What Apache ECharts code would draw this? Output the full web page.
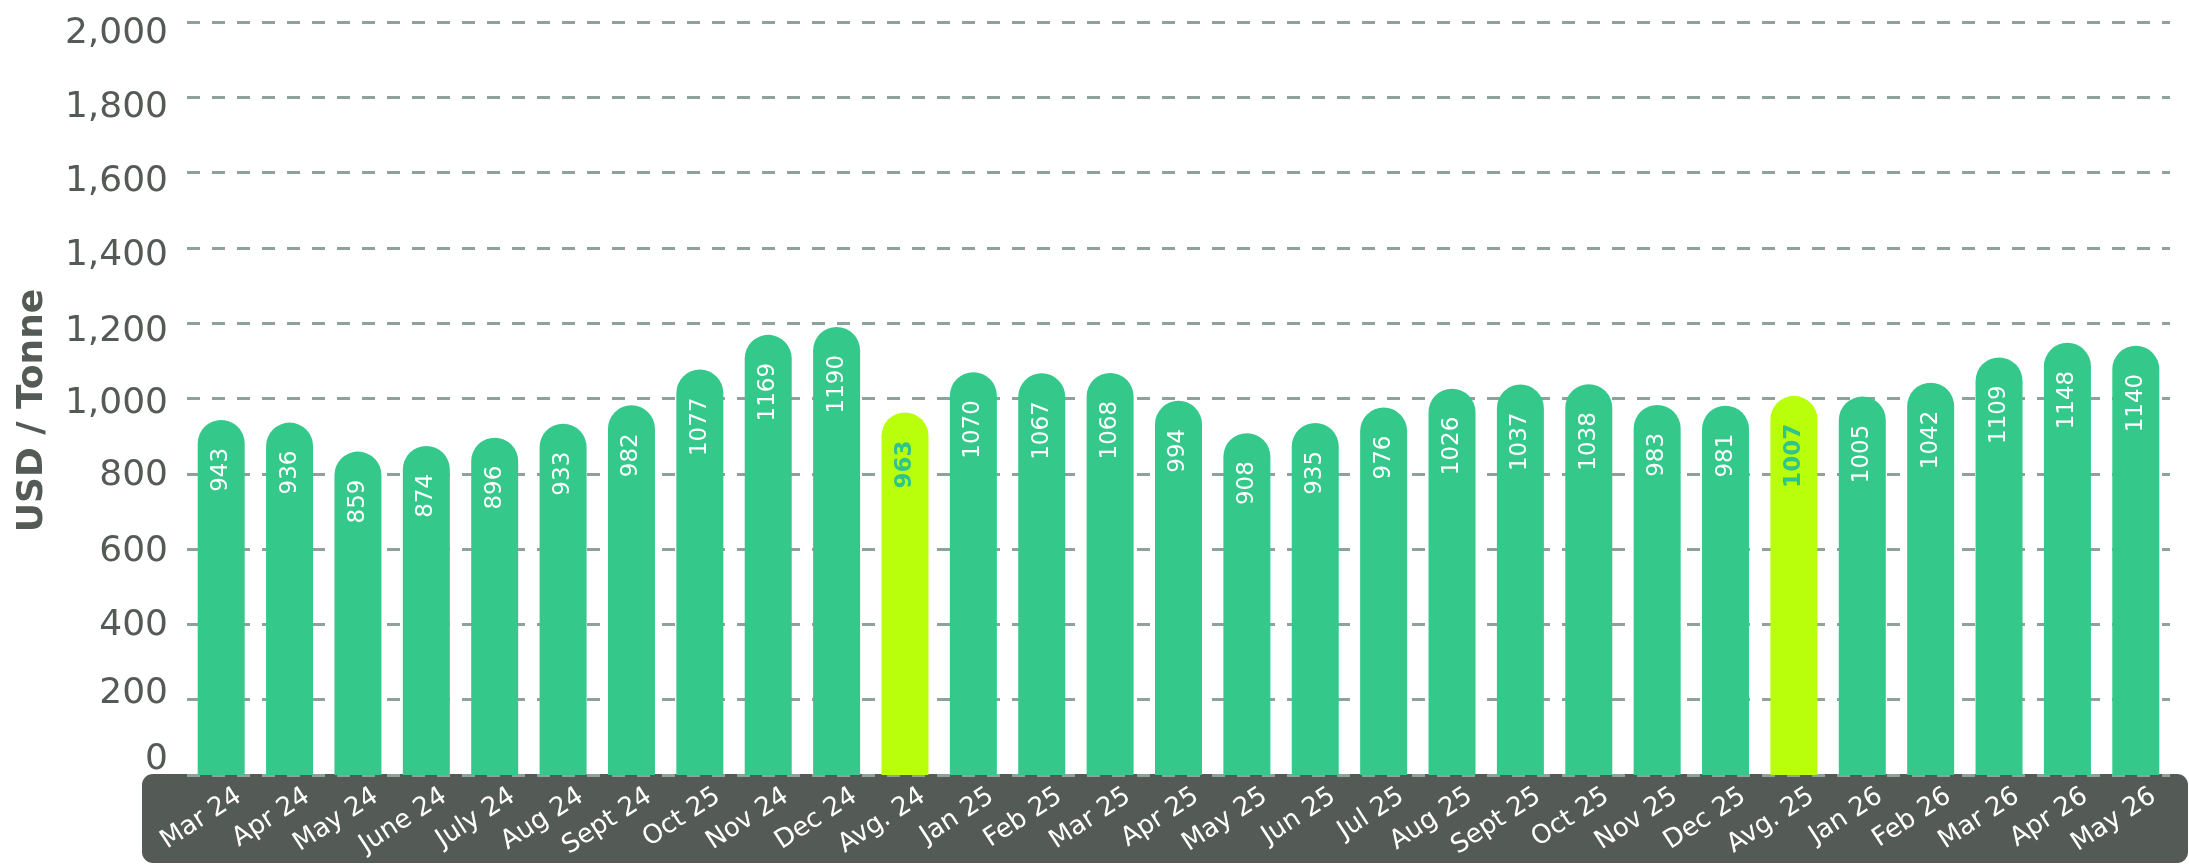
<!DOCTYPE html>
<html>
<head>
<meta charset="utf-8">
<script src="https://cdn.jsdelivr.net/npm/echarts@6/dist/echarts.min.js"></script>
<style>
  html, body { margin: 0; padding: 0; background: #ffffff; }
  #chart { width: 2189px; height: 868px; }
</style>
</head>
<body>
<div id="chart"></div>
<script>
// ---- data ----
const categories = ['Mar 24','Apr 24','May 24','June 24','July 24','Aug 24','Sept 24','Oct 25','Nov 24','Dec 24','Avg. 24',
  'Jan 25','Feb 25','Mar 25','Apr 25','May 25','Jun 25','Jul 25','Aug 25','Sept 25','Oct 25','Nov 25','Dec 25','Avg. 25',
  'Jan 26','Feb 26','Mar 26','Apr 26','May 26'];
const prices = [943, 936, 859, 874, 896, 933, 982, 1077, 1169, 1190, 963,
  1070, 1067, 1068, 994, 908, 935, 976, 1026, 1037, 1038, 983, 981, 1007,
  1005, 1042, 1109, 1148, 1140];
const averageFlags = [0,0,0,0,0,0,0,0,0,0,1, 0,0,0,0,0,0,0,0,0,0,0,0,1, 0,0,0,0,0];
const yTicks = { min: 0, max: 2000, step: 200 };
const yTitle = 'USD / Tonne';

// ---- styling ----
const FONT = '"DejaVu Sans", "Open Sans", sans-serif';
const GREEN = '#34c98b';
const LIME = '#b9ff0b';
const AVG_TEXT = '#2ec48c';
const GREY = '#545a55';
const GRID_LINE = '#8fa19c';

const seriesData = prices.map((v, i) => {
  const avg = averageFlags[i] === 1;
  return {
    value: v,
    itemStyle: { color: avg ? LIME : GREEN },
    label: avg ? { color: AVG_TEXT, fontWeight: 'bold' } : undefined
  };
});

// tick labels in the reference drift a little off their gridlines (px, + = down)
const tickLabelShift = [-15, -6, 1, 3, 2, 5, 8, 8, 9, 10, 12];
const tickRich = {};
tickLabelShift.forEach((shift, k) => {
  tickRich['s' + k] = {
    color: GREY, fontFamily: FONT, fontSize: 36,
    padding: [Math.max(0, 2 * shift), 0, Math.max(0, -2 * shift), 0]
  };
});

const gridMain = { left: 187, right: 19, top: 22, bottom: 93 };
const gridLabels = { left: 187 + 18, right: 19 - 18, top: 22, bottom: 93 };

const chart = echarts.init(document.getElementById('chart'), null, { renderer: 'canvas' });
chart.setOption({
  animation: false,
  backgroundColor: '#ffffff',
  graphic: [{
    type: 'rect',
    z: -5,
    shape: { x: 142, y: 774, width: 2046, height: 89, r: 11 },
    style: { fill: GREY }
  }],
  grid: [gridMain, gridLabels],
  xAxis: [{
    type: 'category',
    gridIndex: 0,
    data: categories,
    axisLine: { show: false },
    axisTick: { show: false },
    axisLabel: { show: false }
  }, {
    type: 'category',
    gridIndex: 1,
    data: categories,
    axisLine: { show: false },
    axisTick: { show: false },
    axisLabel: {
      interval: 0,
      rotate: 33,
      margin: 19,
      color: '#ffffff',
      fontFamily: FONT,
      fontSize: 26
    }
  }],
  yAxis: [{
    type: 'value',
    gridIndex: 0,
    min: yTicks.min,
    max: yTicks.max,
    interval: yTicks.step,
    name: yTitle,
    nameLocation: 'middle',
    nameGap: 136,
    nameTextStyle: { fontFamily: FONT, fontSize: 36, fontWeight: 'bold', color: GREY, padding: [0, 24, 0, 0] },
    axisLine: { show: false },
    axisTick: { show: false },
    axisLabel: {
      margin: 19,
      formatter: v => '{s' + Math.round((v - yTicks.min) / yTicks.step) + '|' + echarts.format.addCommas(v) + '}',
      rich: tickRich
    },
    splitLine: { lineStyle: { color: GRID_LINE, width: 3, type: [13, 12] } }
  }, {
    type: 'value',
    gridIndex: 1,
    min: yTicks.min,
    max: yTicks.max,
    show: false
  }],
  series: [{
    type: 'bar',
    xAxisIndex: 0,
    yAxisIndex: 0,
    data: seriesData,
    barWidth: 47,
    z: 3,
    itemStyle: { borderRadius: [24, 24, 0, 0] },
    label: {
      show: true,
      position: 'insideTop',
      distance: 28,
      rotate: 90,
      align: 'right',
      verticalAlign: 'middle',
      color: '#ffffff',
      fontFamily: FONT,
      fontSize: 23
    }
  }]
});
</script>
</body>
</html>
